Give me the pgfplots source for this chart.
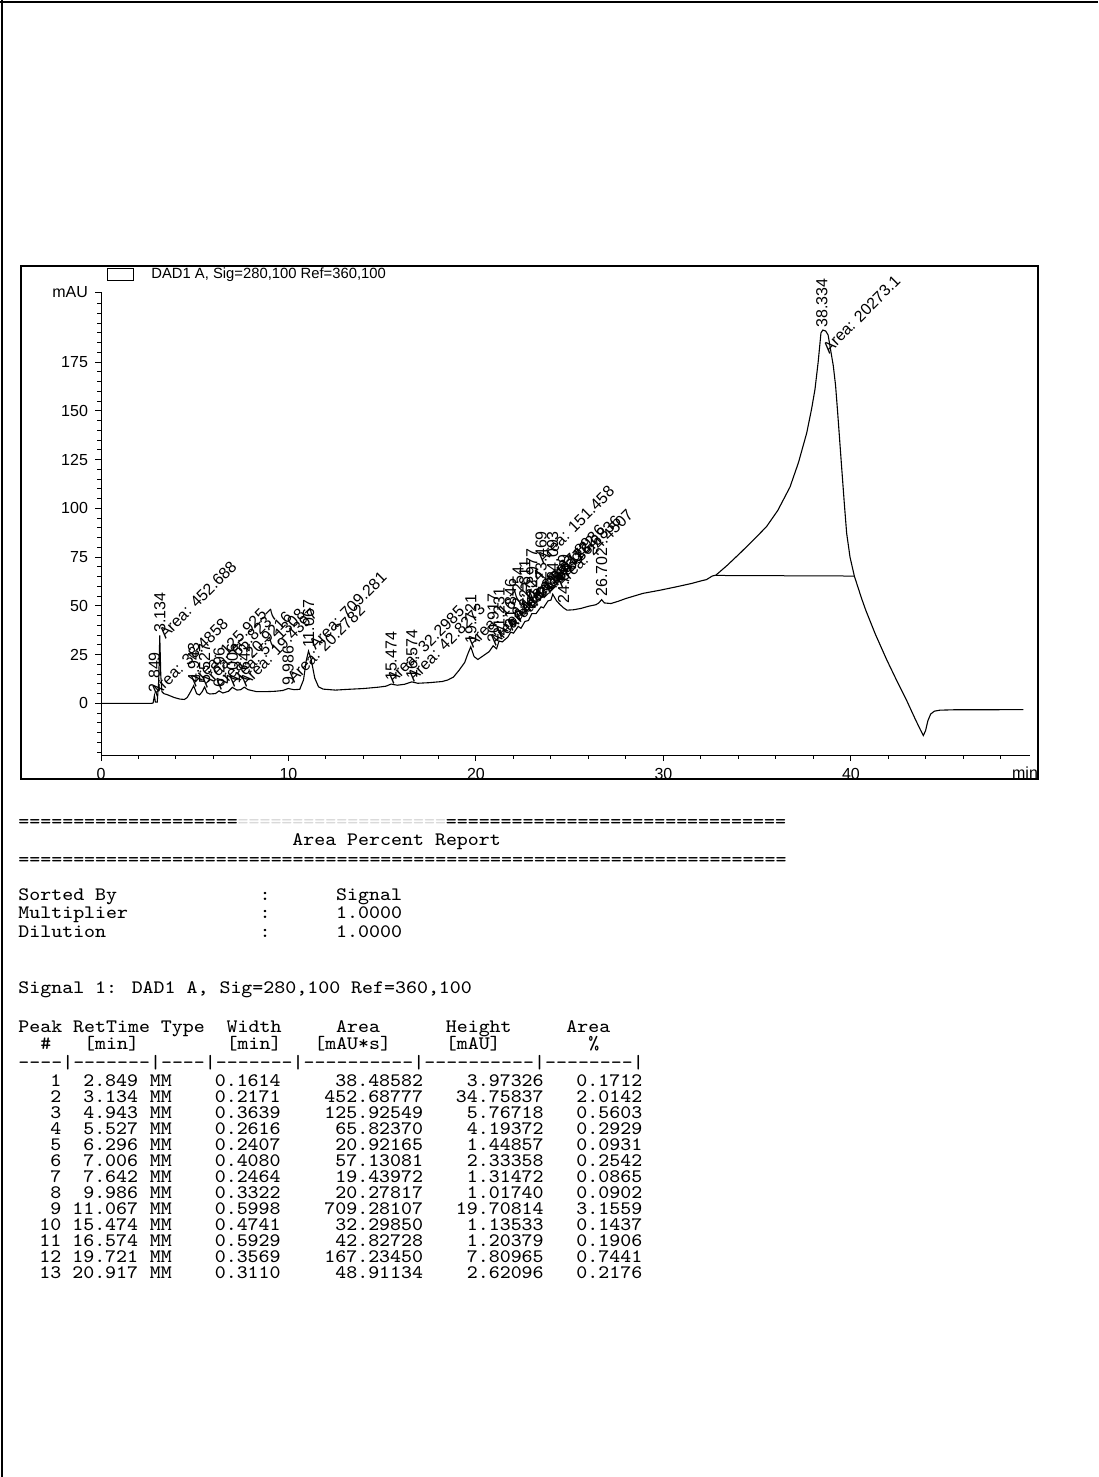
\documentclass[border=0pt]{standalone}
\usepackage{fontspec}
\setmainfont{Liberation Sans}
\newfontfamily\repfont{Latin Modern Mono}[FakeStretch=1.1]
\usepackage{pgfplots}
\pgfplotsset{compat=1.18}

\newcommand\lab{\fontsize{8}{9}\selectfont}
\newcommand\tabfont{\repfont\fontsize{9.5}{11}\selectfont}
% report text on a fixed character grid (column 0 at x = 18)
\newcommand\tl[3]{\node[anchor=base west,inner sep=0,font=\tabfont] at ({18+#2*10.96},{#1+5}) {#3};}
\newcommand\tr[3]{\node[anchor=base east,inner sep=0,font=\tabfont] at ({18+(#2+1)*10.96},{#1+5}) {#3};}
\newcommand\rt[3]{\node[rotate=90,anchor=west,inner sep=1pt,font=\lab] at (axis cs:#1,#2) {#3};}
\newcommand\ar[3]{\node[rotate=45,anchor=south west,inner sep=0.5pt,font=\lab] at (axis cs:#1,#2) {Area: #3};}

\begin{document}
\begin{tikzpicture}
\begin{scope}[x=0.5pt,y=-0.5pt]
\path[use as bounding box, fill=white] (0,0) rectangle (1098,1477);
\draw[line width=1.1pt] (2,0) -- (2,1477);
\draw[line width=1.1pt] (0,2) -- (1098,2);
% chromatogram panel
\draw[line width=0.6pt] (21,266) rectangle (1038,779);
\draw[line width=0.5pt] (107,268.5) rectangle (133,280.5);
\node[anchor=west,inner sep=0,font=\fontsize{7.4}{9}\selectfont] at (151,275) {DAD1 A, Sig=280,100 Ref=360,100};
\node[anchor=center,inner sep=0,font=\lab] at (1025,773) {min};

% report
\tl{822}{0}{====================}
\tl{822}{20}{\color{black!15}===================}
\tl{822}{39}{===============================}
\tl{840}{25}{Area Percent Report}
\tl{860}{0}{======================================================================}
\tl{895}{0}{Sorted By}\tl{895}{22}{:}\tl{895}{29}{Signal}
\tl{913}{0}{Multiplier}\tl{913}{22}{:}\tl{913}{29}{1.0000}
\tl{932}{0}{Dilution}\tl{932}{22}{:}\tl{932}{29}{1.0000}
\tl{988}{0}{Signal 1: DAD1 A, Sig=280,100 Ref=360,100}
\tl{1027}{0}{Peak}\tl{1027}{5}{RetTime}\tl{1027}{13}{Type}\tl{1027}{19}{Width}
\tl{1027}{29}{Area}\tl{1027}{39}{Height}\tl{1027}{50}{Area}
\tl{1044}{2}{\#}\tl{1044}{6}{[min]}\tl{1044}{19}{[min]}\tl{1044}{27}{[mAU*s]}
\tl{1044}{39}{[mAU]}\tl{1044}{52}{\%}
\tl{1063}{0}{-{}-{}-{}-|-{}-{}-{}-{}-{}-{}-|-{}-{}-{}-|-{}-{}-{}-{}-{}-{}-|-{}-{}-{}-{}-{}-{}-{}-{}-{}-|-{}-{}-{}-{}-{}-{}-{}-{}-{}-|-{}-{}-{}-{}-{}-{}-{}-|}
\foreach \pk/\ret/\wid/\are/\hgt/\pct [count=\i from 0] in {
  1/2.849/0.1614/38.48582/3.97326/0.1712,
  2/3.134/0.2171/452.68777/34.75837/2.0142,
  3/4.943/0.3639/125.92549/5.76718/0.5603,
  4/5.527/0.2616/65.82370/4.19372/0.2929,
  5/6.296/0.2407/20.92165/1.44857/0.0931,
  6/7.006/0.4080/57.13081/2.33358/0.2542,
  7/7.642/0.2464/19.43972/1.31472/0.0865,
  8/9.986/0.3322/20.27817/1.01740/0.0902,
  9/11.067/0.5998/709.28107/19.70814/3.1559,
  10/15.474/0.4741/32.29850/1.13533/0.1437,
  11/16.574/0.5929/42.82728/1.20379/0.1906,
  12/19.721/0.3569/167.23450/7.80965/0.7441,
  13/20.917/0.3110/48.91134/2.62096/0.2176}{
  \pgfmathsetmacro\yy{1081+16*\i}
  \tr{\yy}{3}{\pk}\tr{\yy}{10}{\ret}\tl{\yy}{12}{MM}\tr{\yy}{23}{\wid}
  \tr{\yy}{36}{\are}\tr{\yy}{47}{\hgt}\tr{\yy}{56}{\pct}
}
\end{scope}

\begin{axis}[
  at={(50.5pt,-377.5pt)}, anchor=south west,
  scale only axis, width=464.5pt, height=231.5pt,
  xmin=0, xmax=49.55, ymin=-26.5, ymax=211,
  axis lines*=left,
  axis line style={line width=0.5pt},
  tick align=outside,
  major tick length=3pt, minor tick length=1.8pt,
  every tick/.style={line width=0.5pt, black},
  xtick={0,10,20,30,40},
  minor xtick={2,4,...,48},
  ytick={0,25,...,175},
  minor ytick={-25,-20,...,205},
  extra y ticks={211},
  extra y tick labels={mAU},
  tick label style={font=\lab},
  /pgf/number format/assume math mode=true,
  clip=false,
]
% signal trace (min, mAU)
\addplot[line width=0.55pt, black] coordinates {
(0,0) (2.70,0) (2.78,0.2) (2.849,4.0) (2.90,0.6) (3.00,0.6) (3.08,12) (3.134,34.8)
(3.19,14) (3.25,6) (3.35,5) (3.6,4.2) (3.9,3) (4.2,2.2) (4.45,2.0) (4.6,3)
(4.75,5.5) (4.943,9.0) (5.1,5) (5.25,4.3) (5.4,6) (5.527,8.4) (5.65,5.5) (5.8,4.8)
(6.1,5.0) (6.296,6.4) (6.5,5.3) (6.8,6.2) (7.006,8.2) (7.25,6.8) (7.45,7.0)
(7.642,8.3) (7.85,7.0) (8.3,6.0) (8.8,6.0) (9.3,6.2) (9.7,6.6) (9.986,7.6)
(10.3,7.0) (10.6,7.2) (10.8,12) (10.95,22) (11.067,26.8) (11.2,23) (11.4,13)
(11.6,8.5) (11.85,7.3) (12.5,6.8) (13.2,7.2) (14.0,7.6) (14.8,8.3) (15.2,8.8)
(15.474,9.9) (15.8,9.3) (16.2,9.8) (16.574,11.0) (16.9,10.3) (17.5,10.6)
(18.2,11.2) (18.5,12.0) (18.8,13.5) (19.1,17) (19.4,21) (19.55,25) (19.721,29.0)
(19.9,24) (20.1,22.5) (20.4,24.5) (20.7,26.5) (20.917,29.5) (21.1,28.0)
(21.23,32) (21.4,31.5) (21.7,34) (21.85,36.5) (22.0,36) (22.254,39.5) (22.4,38.5)
(22.611,42) (22.8,42.5) (22.977,46) (23.2,46) (23.469,49.5) (23.6,49)
(23.836,52.5) (24.0,53) (24.093,56) (24.3,52.5) (24.5,50.5) (24.669,49)
(24.85,47.8) (25.2,48) (25.6,48.7) (26.0,49.8) (26.4,50.6) (26.55,51.5)
(26.702,53.2) (26.85,51.5) (27.2,51.2) (27.6,52.4) (28.0,53.8) (28.9,56.4)
(29.8,58) (30.7,59.8) (31.5,61.5) (32.0,62.8) (32.3,63.5) (32.6,65.3) (32.8,65.8)
(33.4,70.8) (34.08,77) (34.8,83.8) (35.5,90.7) (36.1,99) (36.75,111) (37.2,123.5)
(37.64,138.7) (37.9,151) (38.08,161) (38.25,175) (38.4,190) (38.5,191.5)
(38.65,191) (38.78,189) (38.92,181) (39.06,173) (39.18,163) (39.3,148) (39.5,121.5)
(39.65,102) (39.77,87.3) (39.95,75) (40.18,65.3) (40.56,54)
(40.8,47.5) (41.3,35.5) (41.9,22.5) (42.4,12.5) (42.97,1.5) (43.4,-7.5) (43.7,-13.5)
(43.86,-16.5) (43.98,-14) (44.1,-9) (44.25,-5.5) (44.45,-4) (44.75,-3.5)
(45.5,-3.3) (47,-3.3) (49.2,-3.2)
};
% integration baseline of the main peak
\addplot[line width=0.5pt, black] coordinates {(32.8,65.6) (40.18,65.3)};

% peak annotations
\rt{2.849}{4.5}{2.849}      \ar{3.0}{2}{38.4858}
\rt{3.134}{35}{3.134}       \ar{3.45}{31.5}{452.688}
\rt{4.943}{9.5}{4.943}      \ar{5.05}{7}{125.925}
\rt{5.527}{9}{5.527}        \ar{5.65}{6.5}{65.8237}
\rt{6.296}{7}{6.296}        \ar{6.4}{5.5}{20.9216}
\rt{7.006}{8.7}{7.006}      \ar{7.1}{7}{57.1308}
\rt{7.642}{8.8}{7.642}      \ar{7.75}{7}{19.4397}
\rt{9.986}{8}{9.986}        \ar{10.3}{9}{20.2782}
\rt{11.067}{27.3}{11.067}   \ar{11.45}{26}{709.281}
\rt{15.474}{10.3}{15.474}   \ar{15.6}{8.5}{32.2985}
\rt{16.574}{11.5}{16.574}   \ar{16.7}{9.5}{42.8273}
\rt{19.721}{29.5}{19.721}   \ar{19.85}{27}{167.234}
\rt{20.917}{30}{20.917}     \ar{21.05}{28}{48.9113}
\rt{21.231}{33}{21.231}     \ar{21.35}{32}{16.2544}
\rt{21.846}{37.5}{21.846}   \ar{21.95}{36}{21.5769}
\rt{22.254}{44}{22.254}     \ar{22.35}{41}{33.0473}
\rt{22.611}{48}{22.611}     \ar{22.7}{45}{54.1122}
\rt{22.977}{53}{22.977}     \ar{23.1}{50}{27.8936}
\rt{23.469}{62}{23.469}     \ar{23.6}{70}{151.458}
\rt{24.093}{62}{24.093}     \ar{23.95}{55}{36.6836}
\rt{24.669}{50}{24.669}     \ar{24.6}{58}{24.4507}
\rt{26.702}{53.6}{26.702}
\rt{38.45}{191.5}{38.334}   \ar{38.85}{178}{20273.1}
\end{axis}
\end{tikzpicture}
\end{document}
